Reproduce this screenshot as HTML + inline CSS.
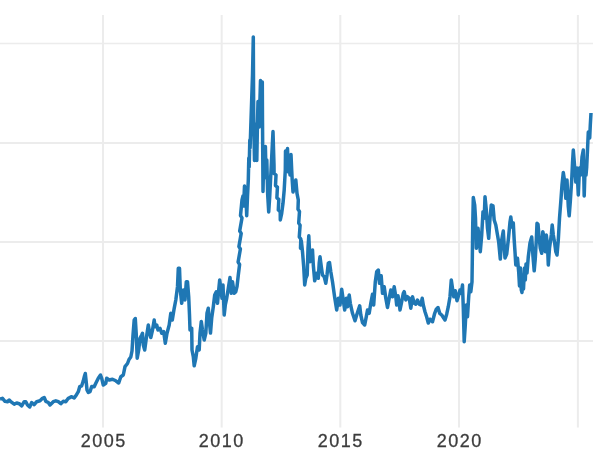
<!DOCTYPE html>
<html><head><meta charset="utf-8"><style>
html,body{margin:0;padding:0;background:#fff;}
body{width:600px;height:450px;overflow:hidden;position:relative;font-family:"Liberation Sans",sans-serif;}
svg{position:absolute;left:0;top:0;display:block}
.t{position:absolute;top:429.5px;width:80px;margin-left:-40.5px;text-align:center;font-size:18px;line-height:22px;color:#3c3c3c;-webkit-text-stroke:0.3px #3c3c3c;letter-spacing:1.55px;text-indent:1.55px;will-change:transform;white-space:nowrap}
</style></head><body>
<svg width="600" height="450" viewBox="0 0 600 450">
<g stroke="#ececec" stroke-width="2" fill="none">
<line x1="103" y1="15" x2="103" y2="427.5"/>
<line x1="221.7" y1="15" x2="221.7" y2="427.5"/>
<line x1="340.3" y1="15" x2="340.3" y2="427.5"/>
<line x1="459" y1="15" x2="459" y2="427.5"/>
<line x1="577.9" y1="15" x2="577.9" y2="427.5"/>
</g>
<g stroke="#ececec" fill="none">
<line x1="0" y1="43.5" x2="593" y2="43.5" stroke-width="1.5"/>
<line x1="0" y1="143" x2="593" y2="143" stroke-width="2"/>
<line x1="0" y1="242" x2="593" y2="242" stroke-width="2"/>
<line x1="0" y1="341" x2="593" y2="341" stroke-width="2.1"/>
</g>
<polyline fill="none" stroke="#1f77b4" stroke-width="3.5" stroke-linejoin="round" stroke-linecap="butt" points="0,399.2 2.5,398.3 5,401.3 7.5,401.7 9.2,400 10.8,401.7 14.2,404.2 16.7,403 19.2,403.7 21.7,405.8 24.2,401.7 25.8,401.7 27.5,405 29.7,407 31.7,402.5 34.2,404.7 36.7,401.7 40,400.8 42.5,398.3 44.2,397.5 45.8,401.3 48.3,402.5 50,405 53.3,401.7 55.8,400.8 58.3,401.7 60.8,403.7 63.3,401.3 65.8,401.7 68.3,398.3 71.7,396.7 74.2,398 75.8,395.8 78.3,391.7 79.7,386.7 81.7,385.8 83.3,380.8 84.5,376 85.3,373.5 86.2,381.7 87,390 88.3,392.5 90,391.7 91.7,386.5 94.2,386.7 95.8,383.3 98.3,378.3 100.5,375 101.7,378.3 103.3,385 105.8,383.3 106.7,378.3 109.2,380 112.5,379.2 115.8,380.8 118.7,383 120.8,376.7 123.3,375 125,366.7 127.5,363.5 129,359.5 130.8,357 132,351 133,335 134.2,320 135.3,318.5 136.2,333.3 137.2,358.3 138.7,350 140,338.3 141.7,335 142.5,333.3 143.3,345 144.7,350 146.3,338.3 148.3,325 149.7,333.3 150.8,337.5 152.5,330 154.2,320 155,326.7 156.7,325 158,330 160,328.3 161.7,333.3 163.7,331.7 165.3,343.3 167,333.3 169.2,325 170.8,313.3 172.3,320 174.2,308.3 175.8,300 177.5,286.7 178.3,268.3 179.5,268.3 180.3,290 181.7,303.3 183.3,290 185,300 186.3,281.7 187.5,281.7 188.7,296.7 189.5,315 190,330 191.7,328.3 192,350 193.3,356.7 194.2,365.8 195.8,358.3 197.5,346.7 199.2,350 200,333.3 201.3,321.5 202.5,330 204.2,340 205.8,333.3 207,313.3 208.3,308.3 209.2,320 210.5,333 211.7,318 213.3,306.7 214.7,295 216.3,291.7 217.5,303.3 218.7,290 219.7,280 220.8,288.3 222,298.3 223,285 224.2,315 225.3,305 226.7,298.3 228.3,288.3 230,277.5 231.3,293.3 232.5,281.7 234.2,293.3 235.8,291.7 237,286.7 238.3,275 239.6,264.5 238.1,262.1 240.4,249.0 238.9,246.6 241.2,233.4 239.7,231.0 242.0,217.9 240.5,215.5 242,200 243,196 243.6,206 244.5,186 245.2,205 245.8,192 246.7,215.8 247.5,196.7 248.3,180 248.8,158 249.2,167 249.8,140 250.1,148 251,120 252.5,75 253.3,37 253.7,120 254.5,160.5 256,124 256.8,160.5 257.5,121 258,101.5 259.2,127 260.5,80.5 261.5,92 262.3,82 262.5,120 263,191.5 263.9,150 264.6,172 265.4,146.5 266.1,178 266.8,160 267.7,195 268.7,212 269.7,197 271.3,165 273,131.5 274,165 274.1,173.4 276.0,175.0 275.5,185.6 277.4,187.2 276.9,197.8 278.8,199.4 278.3,210.0 280.2,211.6 280.3,220 281.7,213.3 283,203.3 284.2,190 285.3,170 285.5,151 286.2,168 287.5,148.5 288.4,172 289.3,158 290,175 291,154.5 291.7,170 292.2,180 293,192 294.2,186.7 295.8,180 297,193.3 298.3,200 298.0,209.3 299.5,211.4 298.7,223.1 300.1,225.2 299.3,236.9 300.8,239.0 300.5,248.3 301.3,240.8 302.5,251.7 303.7,266.7 304.7,285 305.8,278.3 307.2,275 308,248.3 308.8,235.8 310,261.7 311.3,251.7 312.5,250 313.3,265 314.7,280.8 316.7,273.3 318.3,278.3 319.2,263.3 320,256.7 321.3,266.7 322.5,275 324.2,276.7 325.8,283.3 327,275 328.3,263.3 329.5,262.5 330.8,271.7 332.5,281.7 334.7,297.5 336.7,310 338.3,298.3 340,305 341.7,289.2 343,298.3 344.7,310 346.3,298.3 347.5,306.7 349.2,295 350.3,303.3 352.5,313.3 355,320.8 356.7,315 358.3,310 359.7,305.8 360.8,315 362.5,322.5 364.7,325 366.3,316.7 367.5,310 369.2,313.3 370.8,303.3 372.5,294.2 373.7,305 375.3,281.7 376.7,271.7 378.3,270 379.5,283.3 381.2,275.8 382.5,293.3 384.2,286.7 385.8,298.3 387.5,307.5 389.2,298.3 390.8,290 392.5,296.7 394.2,286.7 395.8,296.7 396.7,305 398,295.8 399.2,303.3 400,310 401.7,301.7 403.3,293.3 404.2,291.7 405.8,300 407.5,296.7 409.2,298.3 410.8,308.3 412.5,296.7 414.2,303.3 415.8,304.2 417.5,300 419.2,304.2 420.8,305 422.2,298.3 423.3,305 425,311.7 426.7,317 428.3,323 430,319.2 432.5,321.7 434.7,313.3 436.3,309.2 438,307.5 439.7,313.3 441.7,315 445,320 446.7,314.2 448.3,306.7 450,296.7 451.3,280 452.5,288.3 453.8,296.7 455.3,290.8 457,300.8 458.7,295 460,290 461.2,293.3 462.5,285 463.3,308.3 464.2,341.7 465.3,325 466.3,305 467.5,316.7 468.7,296.7 469.7,285 470.8,291.7 472,281.7 472.3,260 472.7,226.7 473.3,197.5 474.7,205 475.5,218.3 476.3,248.3 478,228.3 479.2,240 480.3,251.7 481.7,235 483,211.7 484.2,218.3 485,196.7 486.3,210 487.5,228.3 488.7,238.3 490,218.3 491.3,205 493,205.8 494.2,220 495.8,225 497.5,235 498.7,242 500.3,259 501.7,240 503.3,231 505,258 506.7,254 508.5,238 510,222 510.8,217 512,227 513.3,223 514.2,240 515,252 515.8,265 517.5,258.3 518.7,272 519.5,286 520.5,268 521.3,290 522,292.5 522.8,275 523.5,289 524.5,268 525.3,280 526,264 527,273 528.3,256.7 530,243 531.7,237 533,256.7 534.2,270.8 535.3,258.3 536.3,240 537,223.3 538,224.2 539.2,238.3 540.3,248.3 541.7,253.3 542.8,231.7 544.2,238.3 545.3,251.7 546.3,235 547.5,245 548.3,265 549.5,248.3 551.3,235 552.2,225 553.3,235 554.7,243.3 555.8,251.7 557,255 558.3,240 559.5,218.3 560.8,201.7 562,185 563.3,172.5 564.7,181.7 565.8,198.3 567,180 568.3,206.7 569.2,215.8 570.3,201.7 571.7,180 572.5,163 573.3,150 574.5,165 575.8,182 577,168 578.3,195 579.5,168 580.8,175 582,157 583.3,150 584.2,196 585.2,165 586,175 586.7,167 587.5,150 588.3,132 589.7,138 590.3,125 591,113"/>
</svg>
<div class="t" style="left:103px">2005</div>
<div class="t" style="left:221.7px">2010</div>
<div class="t" style="left:340.3px">2015</div>
<div class="t" style="left:459px">2020</div>
</body></html>
